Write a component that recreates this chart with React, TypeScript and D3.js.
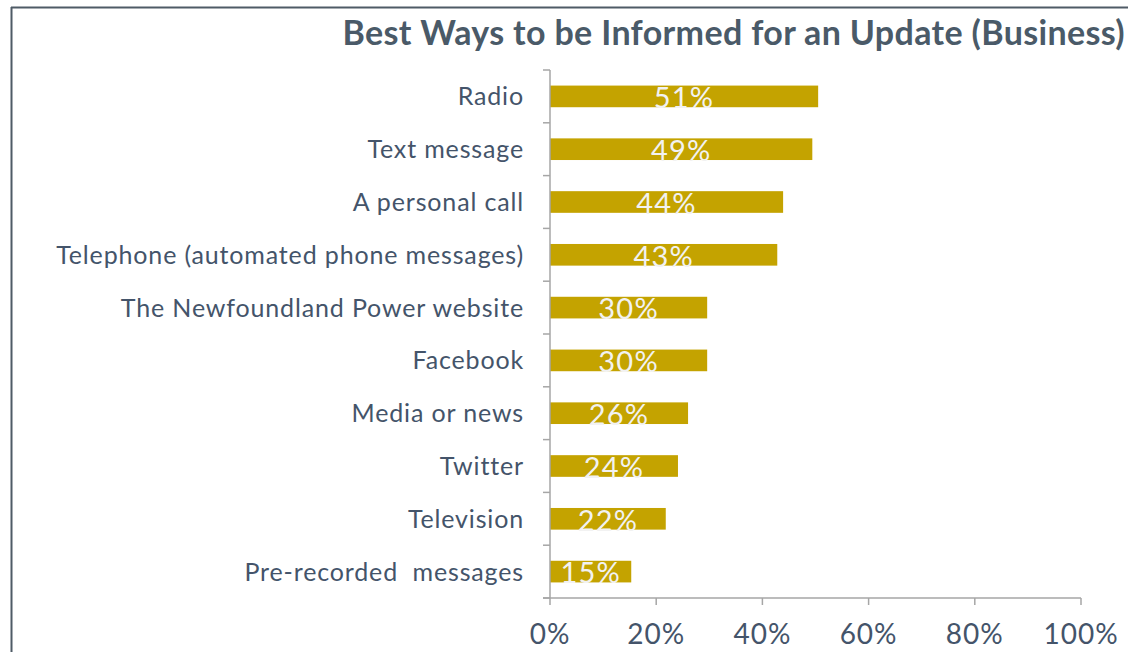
import React from "react";
import * as d3 from "d3";

const categories = [
  "Radio",
  "Text message",
  "A personal call",
  "Telephone (automated phone messages)",
  "The Newfoundland Power website",
  "Facebook",
  "Media or news",
  "Twitter",
  "Television",
  "Pre-recorded  messages",
];
const values = [50.5, 49.4, 43.9, 42.8, 29.6, 29.6, 26.0, 24.1, 21.8, 15.3];
const valueLabels = ["51%", "49%", "44%", "43%", "30%", "30%", "26%", "24%", "22%", "15%"];
const xTicks = [0, 20, 40, 60, 80, 100];
const title = "Best Ways to be Informed for an Update (Business)";

const W = 1128;
const H = 652;
const TEXT = "#44546A";
const BAR = "#C4A300";
const AXIS = "#A6A6A6";
const FONT = "Lato, 'Noto Sans', sans-serif";

export default function App() {
  const x = d3.scaleLinear().domain([0, 100]).range([550, 1081]);
  const y = d3.scaleBand<string>().domain(categories).range([70, 598]).paddingInner(0.59).paddingOuter(0.295);
  const band = (598 - 70) / categories.length;
  const bounds = d3.range(categories.length + 1).map((i) => 70 + i * band);

  return (
    <svg width={W} height={H} style={{ position: "absolute", left: 0, top: 0, background: "#fff" }}>
      <line x1={11} y1={7.5} x2={W} y2={7.5} stroke="#4F5B66" strokeWidth={2} />
      <line x1={11.5} y1={7} x2={11.5} y2={H} stroke="#4F5B66" strokeWidth={2} />
      <text
        x={1125}
        y={45}
        textAnchor="end"
        fill="#4A5A68"
        fontFamily={FONT}
        fontWeight="bold"
        fontSize={34}
        letterSpacing={0.35}
      >
        {title}
      </text>
      {categories.map((c, i) => (
        <g key={c}>
          <rect x={x(0)} y={y(c)} width={x(values[i]) - x(0)} height={y.bandwidth()} fill={BAR} />
          <text
            x={(x(0) + x(values[i])) / 2}
            y={(y(c) as number) + y.bandwidth() + 1}
            textAnchor="middle"
            fill="#F2F2F2"
            fontFamily={FONT}
            fontSize={29}
            letterSpacing={1.2}
          >
            {valueLabels[i]}
          </text>
          <text
            x={524}
            y={(y(c) as number) + y.bandwidth() / 2}
            dy="0.36em"
            textAnchor="end"
            fill={TEXT}
            fontFamily={FONT}
            fontSize={25}
            letterSpacing={0.85}
            style={{ whiteSpace: "pre" }}
          >
            {c}
          </text>
        </g>
      ))}
      <line x1={550} y1={70} x2={550} y2={598} stroke={AXIS} strokeWidth={1.5} />
      {bounds.map((b, i) => (
        <line key={"yt" + i} x1={543} y1={b} x2={550} y2={b} stroke={AXIS} strokeWidth={1.5} />
      ))}
      <line x1={543} y1={598} x2={1081} y2={598} stroke={AXIS} strokeWidth={1.5} />
      {xTicks.map((t) => (
        <g key={"xt" + t}>
          <line x1={x(t)} y1={598} x2={x(t)} y2={605} stroke={AXIS} strokeWidth={1.5} />
          <text x={x(t)} y={644} textAnchor="middle" fill={TEXT} fontFamily={FONT} fontSize={28} letterSpacing={1}>
            {t + "%"}
          </text>
        </g>
      ))}
    </svg>
  );
}
